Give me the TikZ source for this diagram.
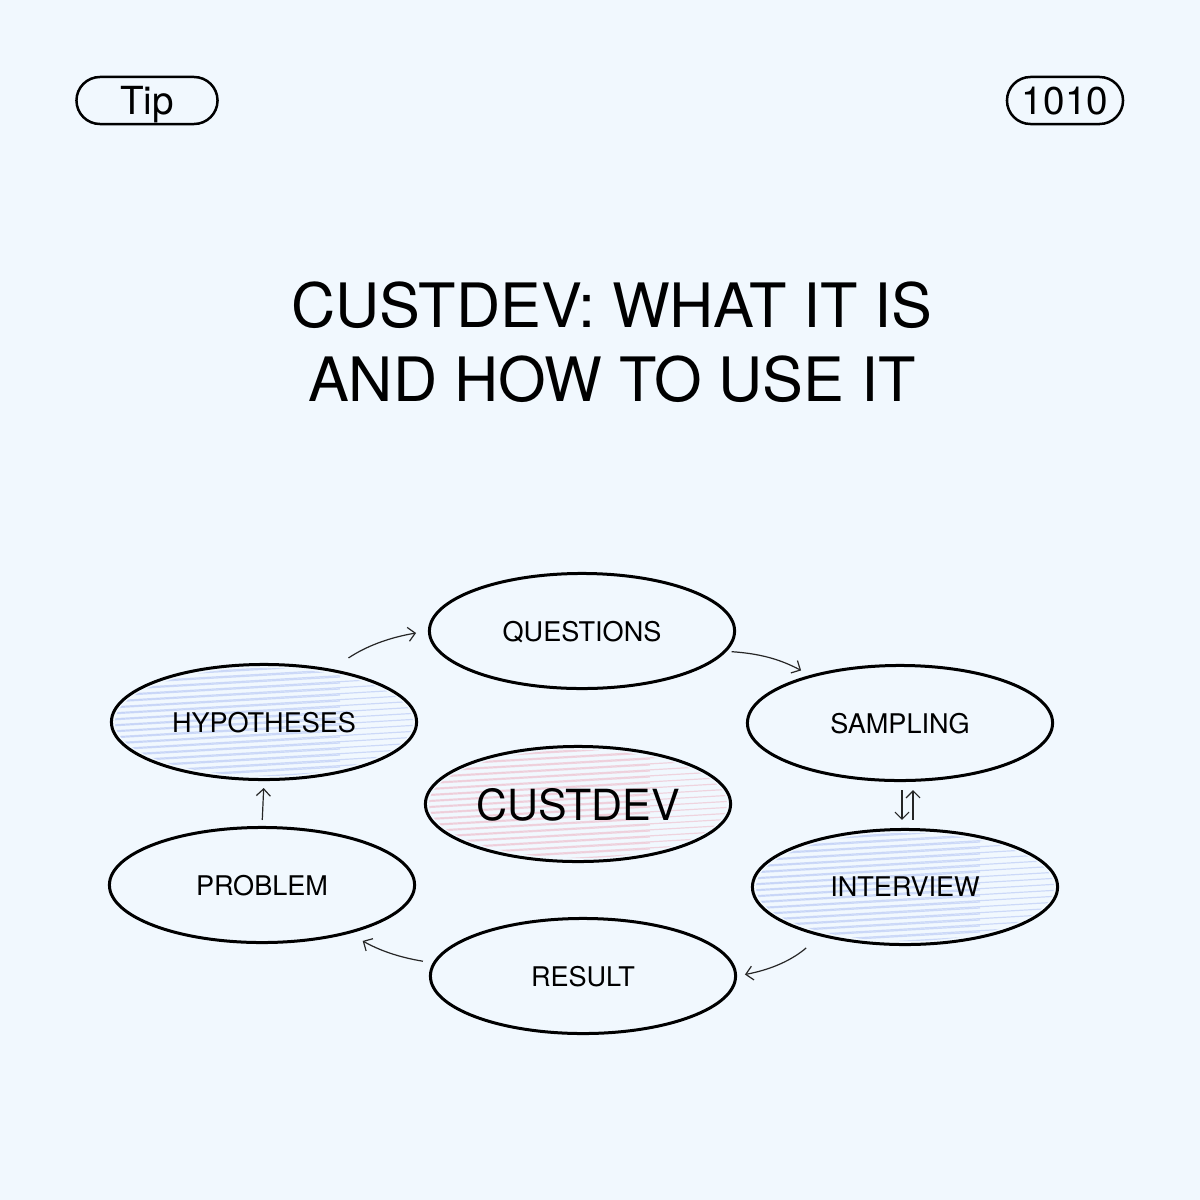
\documentclass[tikz,border=0pt]{standalone}
\usepackage{fontspec}
\setmainfont{TeX Gyre Heros}
\usetikzlibrary{shapes.geometric,arrows.meta}
\definecolor{bgblue}{RGB}{241,248,254}
\definecolor{hatchblue}{RGB}{150,172,240}
\definecolor{hatchpink}{RGB}{236,156,176}

\begin{document}
\begin{tikzpicture}[
            x = 0.01cm, y = -0.01cm,
            every node/.style={text depth=0pt, inner sep=0pt},
            bubble/.style={ellipse, draw, line width=0.03cm, minimum width=3.05cm, minimum height=1.15cm, font=\fontsize{7.7}{9}\selectfont},
            tag/.style={draw, line width=0.025cm, rounded corners=0.235cm, minimum height=0.47cm, font=\fontsize{11}{13}\selectfont},
            conn/.style={line width=0.012cm, black!85, -{Straight Barb[length=0.07cm, width=0.14cm]}},
            hatch/.style={line width=0.012cm, opacity=0.4},
            ]

    \fill[bgblue] (0,0) rectangle (1200,1200);

    \node[tag, minimum width=1.41cm] (tip) at (147,100.5) {Tip};
    \node[tag, minimum width=1.16cm] (num) at (1065,100.5) {1010};

    \node[font=\fontsize{17.4}{21}\selectfont, align=center] (title) at (612,342) {CUSTDEV: WHAT IT IS\\AND HOW TO USE IT};

    % hatching
    \begin{scope}
        \clip (264,722) ellipse [x radius=1.49cm, y radius=0.54cm];
        \foreach \d in {-66,-60,...,66} {
            \draw[hatch, hatchblue] (110,{722+\d+9}) -- (420,{722+\d-9});
            \draw[hatch, hatchblue] (110,{722+\d+4}) -- (340,{722+\d-9});
        }
    \end{scope}
    \begin{scope}
        \clip (905,887) ellipse [x radius=1.49cm, y radius=0.54cm];
        \foreach \d in {-66,-60,...,66} {
            \draw[hatch, hatchblue] (750,{887+\d+9}) -- (1060,{887+\d-9});
            \draw[hatch, hatchblue] (750,{887+\d+4}) -- (980,{887+\d-9});
        }
    \end{scope}
    \begin{scope}
        \clip (578,804) ellipse [x radius=1.49cm, y radius=0.54cm];
        \foreach \d in {-66,-60,...,66} {
            \draw[hatch, hatchpink] (420,{804+\d+9}) -- (735,{804+\d-9});
            \draw[hatch, hatchpink] (420,{804+\d+4}) -- (650,{804+\d-9});
        }
    \end{scope}

    \node[bubble] (que) at (582,631) {QUESTIONS};
    \node[bubble] (sam) at (900,723) {SAMPLING};
    \node[bubble] (int) at (905,887) {INTERVIEW};
    \node[bubble] (res) at (583,976) {RESULT};
    \node[bubble] (pro) at (262,885) {PROBLEM};
    \node[bubble] (hyp) at (264,722) {HYPOTHESES};
    \node[bubble, font=\fontsize{12.2}{14}\selectfont] (cus) at (578,804) {CUSTDEV};

    \draw[conn, shorten <=0.2cm, shorten >=0.12cm] (hyp.38) to[bend left=12] (que.west);
    \draw[conn, shorten <=0.05cm, shorten >=0.1cm] (que.-8) to[bend left=12] (sam.152);
    \draw[conn, shorten <=0.08cm, shorten >=0.08cm] ([xshift=0.02cm]sam.south) -- ([xshift=0.02cm]sam.south |- int.north);
    \draw[conn, shorten <=0.08cm, shorten >=0.08cm] ([xshift=0.13cm]sam.south |- int.north) -- ([xshift=0.13cm]sam.south);
    \draw[conn, shorten <=0.18cm, shorten >=0.08cm] (int.-150) to[bend left=15] (res.east);
    \draw[conn, shorten <=0.1cm, shorten >=0.15cm] (res.175) to[bend left=10] (pro.-29);
    \draw[conn, shorten <=0.06cm, shorten >=0.07cm] (pro.north) -- (hyp.south);
\end{tikzpicture}
\end{document}
